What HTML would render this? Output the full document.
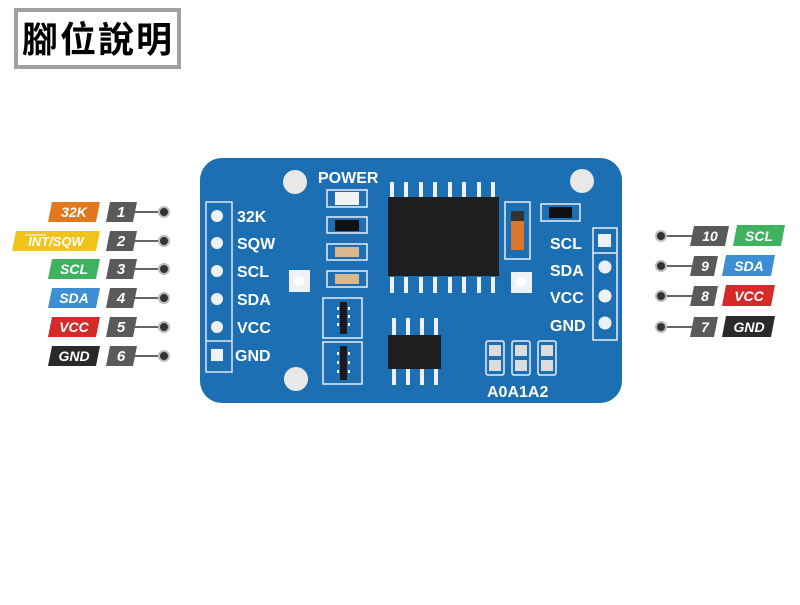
<!DOCTYPE html>
<html><head><meta charset="utf-8"><style>
body{margin:0;background:#fff;width:800px;height:600px;overflow:hidden}
</style></head><body>
<svg width="800" height="600" xmlns="http://www.w3.org/2000/svg" font-family="Liberation Sans, DejaVu Sans, sans-serif">
<rect x="16" y="10" width="163" height="57" fill="#fff" stroke="#a0a0a0" stroke-width="4"/>
<text x="97" y="52" text-anchor="middle" font-size="36" font-weight="bold" font-family="Liberation Sans, Noto Sans CJK TC, sans-serif" fill="#000" textLength="150">腳位說明</text>

<!-- board -->
<rect x="200" y="158" width="422" height="245" rx="22" fill="#1d6fb4"/>
<g fill="#e8e8e8"><circle cx="295" cy="182" r="12"/><circle cx="296" cy="379" r="12"/><circle cx="582" cy="181" r="12"/></g>
<text x="318" y="183" font-size="16" font-weight="bold" fill="#fff">POWER</text>
<!-- left header -->
<rect x="206" y="202" width="26" height="170" fill="none" stroke="#dfe8f0" stroke-width="1.5"/>
<line x1="206" y1="341" x2="232" y2="341" stroke="#dfe8f0" stroke-width="1.5"/>
<g fill="#eef2f6"><circle cx="217" cy="216" r="6"/><circle cx="217" cy="243" r="6"/><circle cx="217" cy="271" r="6"/><circle cx="217" cy="299" r="6"/><circle cx="217" cy="327" r="6"/><rect x="211" y="349" width="12" height="12"/></g>
<g font-size="16" font-weight="bold" fill="#fff"><text x="237" y="222">32K</text><text x="237" y="249">SQW</text><text x="237" y="277">SCL</text><text x="237" y="305">SDA</text><text x="237" y="333">VCC</text><text x="235" y="361">GND</text></g>
<!-- resistors -->
<g fill="none" stroke="#e8eef4" stroke-width="1.5"><rect x="327" y="190" width="40" height="17"/><rect x="327" y="217" width="40" height="16"/><rect x="327" y="244" width="40" height="16"/><rect x="327" y="271" width="40" height="16"/>
<rect x="323" y="298" width="39" height="40"/><rect x="323" y="342" width="39" height="42"/><rect x="505" y="202" width="25" height="57"/><rect x="541" y="204" width="39" height="17"/>
<rect x="486" y="341" width="18" height="34" rx="2"/><rect x="512" y="341" width="18" height="34" rx="2"/><rect x="538" y="341" width="18" height="34" rx="2"/>
<rect x="593" y="228" width="24" height="112"/></g>
<line x1="593" y1="253" x2="617" y2="253" stroke="#e8eef4" stroke-width="1.5"/>
<rect x="335" y="192" width="24" height="13" fill="#f2f2f2"/>
<rect x="335" y="220" width="24" height="11" fill="#111"/>
<rect x="335" y="247" width="24" height="10" fill="#d8b88c"/>
<rect x="335" y="274" width="24" height="10" fill="#d8b88c"/>
<rect x="549" y="207" width="23" height="11" fill="#111"/>
<rect x="511" y="211" width="13" height="39" fill="#d9772b"/><rect x="511" y="211" width="13" height="10" fill="#333"/>
<g fill="#1a1a1a"><rect x="340" y="302" width="7" height="32"/><rect x="340" y="346" width="7" height="34"/></g>
<g fill="#fff"><rect x="337" y="307" width="2" height="3"/><rect x="337" y="315" width="2" height="3"/><rect x="337" y="323" width="2" height="3"/><rect x="348" y="307" width="2" height="3"/><rect x="348" y="315" width="2" height="3"/><rect x="348" y="323" width="2" height="3"/>
<rect x="337" y="352" width="2" height="3"/><rect x="337" y="361" width="2" height="3"/><rect x="337" y="370" width="2" height="3"/><rect x="348" y="352" width="2" height="3"/><rect x="348" y="361" width="2" height="3"/><rect x="348" y="370" width="2" height="3"/></g>
<g fill="#dcdcdc"><rect x="489" y="345" width="12" height="11"/><rect x="489" y="360" width="12" height="11"/><rect x="515" y="345" width="12" height="11"/><rect x="515" y="360" width="12" height="11"/><rect x="541" y="345" width="12" height="11"/><rect x="541" y="360" width="12" height="11"/></g>
<g fill="#eef2f6"><rect x="289" y="270" width="21" height="22"/><rect x="511" y="272" width="21" height="21"/><circle cx="605" cy="267" r="6.5"/><circle cx="605" cy="296" r="6.5"/><circle cx="605" cy="323" r="6.5"/><rect x="598" y="234" width="13" height="13"/></g>
<g fill="#fff"><circle cx="299" cy="281" r="5"/><circle cx="521" cy="282" r="5"/></g>
<!-- ICs -->
<rect x="388" y="197" width="111" height="79" fill="#1e1e1e"/>
<g fill="#eef2f6">
<rect x="390" y="182" width="4" height="15"/><rect x="404" y="182" width="4" height="15"/><rect x="419" y="182" width="4" height="15"/><rect x="433" y="182" width="4" height="15"/><rect x="448" y="182" width="4" height="15"/><rect x="462" y="182" width="4" height="15"/><rect x="477" y="182" width="4" height="15"/><rect x="491" y="182" width="4" height="15"/>
<rect x="390" y="277" width="4" height="16"/><rect x="404" y="277" width="4" height="16"/><rect x="419" y="277" width="4" height="16"/><rect x="433" y="277" width="4" height="16"/><rect x="448" y="277" width="4" height="16"/><rect x="462" y="277" width="4" height="16"/><rect x="477" y="277" width="4" height="16"/><rect x="491" y="277" width="4" height="16"/>
<rect x="392" y="318" width="4" height="17"/><rect x="406" y="318" width="4" height="17"/><rect x="420" y="318" width="4" height="17"/><rect x="434" y="318" width="4" height="17"/>
<rect x="392" y="369" width="4" height="16"/><rect x="406" y="369" width="4" height="16"/><rect x="420" y="369" width="4" height="16"/><rect x="434" y="369" width="4" height="16"/></g>
<rect x="388" y="335" width="53" height="34" fill="#1e1e1e"/>
<g font-size="16" font-weight="bold" fill="#fff"><text x="550" y="249">SCL</text><text x="550" y="276">SDA</text><text x="550" y="303">VCC</text><text x="550" y="331">GND</text><text x="487" y="397">A0A1A2</text></g>

<!-- left labels -->
<g font-size="14" font-weight="bold" font-style="italic" text-anchor="middle">
<g transform="translate(0,212)"><polygon points="52,-10 100,-10 96,10 48,10" fill="#e2781e"/><text x="74" y="5" fill="#fff">32K</text></g>
<g transform="translate(0,241)"><polygon points="16,-10 100,-10 96,10 12,10" fill="#f0c419"/><text x="56" y="5" fill="#fff" font-size="13">INT/SQW</text><line x1="25" y1="-6" x2="46" y2="-6" stroke="#fff" stroke-width="1"/></g>
<g transform="translate(0,269)"><polygon points="52,-10 100,-10 96,10 48,10" fill="#3fb25f"/><text x="74" y="5" fill="#fff">SCL</text></g>
<g transform="translate(0,298)"><polygon points="52,-10 100,-10 96,10 48,10" fill="#3d8ed3"/><text x="74" y="5" fill="#fff">SDA</text></g>
<g transform="translate(0,327)"><polygon points="52,-10 100,-10 96,10 48,10" fill="#d42a2a"/><text x="74" y="5" fill="#fff">VCC</text></g>
<g transform="translate(0,356)"><polygon points="52,-10 100,-10 96,10 48,10" fill="#2a2a2a"/><text x="74" y="5" fill="#fff">GND</text></g>
</g>
<g font-size="15" font-weight="bold" font-style="italic" text-anchor="middle" fill="#fff">
<g transform="translate(0,212)"><polygon points="110,-10 137,-10 133,10 106,10" fill="#5a5a5a"/><text x="121" y="5">1</text></g>
<g transform="translate(0,241)"><polygon points="110,-10 137,-10 133,10 106,10" fill="#5a5a5a"/><text x="121" y="5">2</text></g>
<g transform="translate(0,269)"><polygon points="110,-10 137,-10 133,10 106,10" fill="#5a5a5a"/><text x="121" y="5">3</text></g>
<g transform="translate(0,298)"><polygon points="110,-10 137,-10 133,10 106,10" fill="#5a5a5a"/><text x="121" y="5">4</text></g>
<g transform="translate(0,327)"><polygon points="110,-10 137,-10 133,10 106,10" fill="#5a5a5a"/><text x="121" y="5">5</text></g>
<g transform="translate(0,356)"><polygon points="110,-10 137,-10 133,10 106,10" fill="#5a5a5a"/><text x="121" y="5">6</text></g>
</g>
<g stroke="#333" stroke-width="1.5">
<line x1="135" y1="212" x2="158" y2="212"/><line x1="135" y1="241" x2="158" y2="241"/><line x1="135" y1="269" x2="158" y2="269"/><line x1="135" y1="298" x2="158" y2="298"/><line x1="135" y1="327" x2="158" y2="327"/><line x1="135" y1="356" x2="158" y2="356"/>
<line x1="667" y1="236" x2="692" y2="236"/><line x1="667" y1="266" x2="692" y2="266"/><line x1="667" y1="296" x2="692" y2="296"/><line x1="667" y1="327" x2="692" y2="327"/></g>
<g fill="#333" stroke="#bbb" stroke-width="2">
<circle cx="164" cy="212" r="5"/><circle cx="164" cy="241" r="5"/><circle cx="164" cy="269" r="5"/><circle cx="164" cy="298" r="5"/><circle cx="164" cy="327" r="5"/><circle cx="164" cy="356" r="5"/>
<circle cx="661" cy="236" r="5"/><circle cx="661" cy="266" r="5"/><circle cx="661" cy="296" r="5"/><circle cx="661" cy="327" r="5"/></g>
<!-- right labels -->
<g font-size="14" font-weight="bold" font-style="italic" text-anchor="middle" fill="#fff">
<g transform="translate(0,236)"><polygon points="694,-10 729,-10 725,10 690,10" fill="#5a5a5a"/><text x="710" y="5">10</text><polygon points="737,-11 785,-11 781,10 733,10" fill="#3fb25f"/><text x="759" y="5">SCL</text></g>
<g transform="translate(0,266)"><polygon points="694,-10 718,-10 714,10 690,10" fill="#5a5a5a"/><text x="705" y="5">9</text><polygon points="726,-11 775,-11 771,10 722,10" fill="#3d8ed3"/><text x="749" y="5">SDA</text></g>
<g transform="translate(0,296)"><polygon points="694,-10 718,-10 714,10 690,10" fill="#5a5a5a"/><text x="705" y="5">8</text><polygon points="726,-11 775,-11 771,10 722,10" fill="#d42a2a"/><text x="749" y="5">VCC</text></g>
<g transform="translate(0,327)"><polygon points="694,-10 718,-10 714,10 690,10" fill="#5a5a5a"/><text x="705" y="5">7</text><polygon points="726,-11 775,-11 771,10 722,10" fill="#2a2a2a"/><text x="749" y="5">GND</text></g>
</g>
</svg>
</body></html>
